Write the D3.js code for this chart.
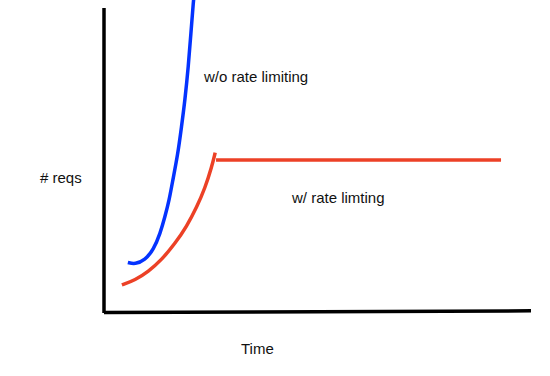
<!DOCTYPE html>
<html>
<head>
<meta charset="utf-8">
<script src="https://cdn.jsdelivr.net/npm/d3@7"></script>
<style>
  body { margin: 0; background: #fff; }
  text { font-family: "Liberation Sans", Arial, Helvetica, sans-serif; font-size: 15px; fill: #111; }
</style>
</head>
<body>
<div id="cntr"></div>
<script>
const width = 550;
const height = 376;

// time (0..100) and # reqs (0..100)
const noLimitTime = [5.6, 7.3, 9.6, 11.6, 13.2, 14.3, 15.3, 16.0, 17.3, 18.2, 19.0, 19.8, 20.4, 21.0, 21.2];
const noLimitReqs = [16.3, 15.7, 17.1, 20.4, 25.9, 31.3, 36.8, 42.3, 51.6, 61.0, 69.7, 80.7, 91.7, 102.6, 104.6];

const limitTime = [4.2, 7.3, 10.4, 13.5, 16.7, 19.4, 21.8, 23.7, 25.3, 26.1];
const limitReqs = [8.9, 10.5, 13.3, 17.1, 22.6, 28.1, 34.6, 40.7, 47.8, 52.4];

// flat part once the limit kicks in
const capTime = [26.3, 93.2];
const capReqs = [50, 50];

const svg = d3.select("#cntr")
    .append("svg")
    .attr("width", width)
    .attr("height", height);

const x = d3.scaleLinear().domain([0, 100]).range([104, 530]);
const y = d3.scaleLinear().domain([0, 100]).range([312, 8]);

const line = d3.line()
    .x(d => x(d[0]))
    .y(d => y(d[1]))
    .curve(d3.curveBasis);

// axes (plain hand-drawn style lines, no ticks)
svg.append("line")
    .attr("x1", x(0)).attr("y1", y(100))
    .attr("x2", x(0)).attr("y2", y(0) + 1)
    .attr("stroke", "#000").attr("stroke-width", 3.5);

svg.append("line")
    .attr("x1", x(0)).attr("y1", y(0) + 0.5)
    .attr("x2", x(100) + 1).attr("y2", y(0) - 1.2)
    .attr("stroke", "#000").attr("stroke-width", 3.5);

svg.append("path")
    .datum(d3.zip(noLimitTime, noLimitReqs))
    .attr("d", line)
    .attr("fill", "none")
    .attr("stroke", "#0433ff")
    .attr("stroke-width", 3.5);

svg.append("path")
    .datum(d3.zip(limitTime, limitReqs))
    .attr("d", line)
    .attr("fill", "none")
    .attr("stroke", "#ec4126")
    .attr("stroke-width", 3.5);

svg.append("path")
    .datum(d3.zip(capTime, capReqs))
    .attr("d", d3.line().x(d => x(d[0])).y(d => y(d[1])))
    .attr("fill", "none")
    .attr("stroke", "#ec4126")
    .attr("stroke-width", 3.5);

// labels
svg.append("text").attr("x", 40).attr("y", 183).text("# reqs");
svg.append("text").attr("x", 241).attr("y", 354).text("Time");
svg.append("text").attr("x", 204).attr("y", 82).text("w/o rate limiting");
svg.append("text").attr("x", 292).attr("y", 203).text("w/ rate limting");
</script>
</body>
</html>
